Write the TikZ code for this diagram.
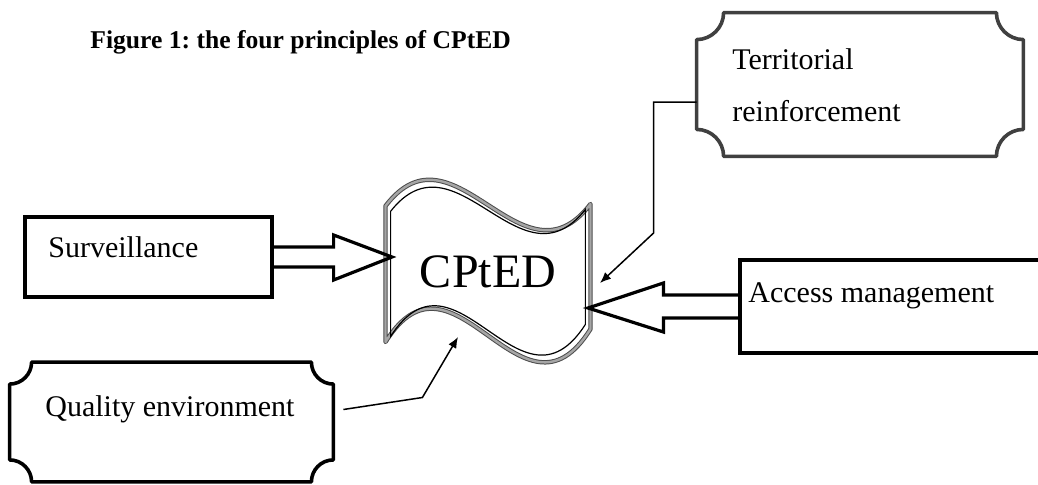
\documentclass[tikz,border=0pt]{standalone}
\usepackage{fontspec}
\setmainfont{Liberation Serif}
\usetikzlibrary{arrows.meta}
\frenchspacing

% plaque outline (concave corners) round a node: name, radius, style
\newcommand{\plaque}[3]{%
  \draw[#3] ([yshift=-#2]#1.north west) arc[start angle=-90,end angle=0,radius=#2]
    -- ([xshift=-#2]#1.north east) arc[start angle=180,end angle=270,radius=#2]
    -- ([yshift=#2]#1.south east) arc[start angle=90,end angle=180,radius=#2]
    -- ([xshift=#2]#1.south west) arc[start angle=0,end angle=90,radius=#2] -- cycle;}

\begin{document}
\begin{tikzpicture}[x=0.5pt,y=0.5pt]

    \tikzset{
      box/.style={
        draw,
        line width=1.6pt,
        inner sep=0pt,
      },
      plaquebox/.style={
        inner sep=0pt,
      },
      plaqueline/.style={
        line width=1.8pt,
        line join=round,
      },
      lbl/.style={
        font=\fontsize{15}{26}\selectfont,
        inner sep=0pt,
      },
      blockarrow/.style={
        draw,
        line width=1.6pt,
        line join=miter,
      },
      link/.style={
        line width=0.75pt,
        -{Latex[length=5.5pt,width=4.5pt]},
      },
    }
    \clip (0,0) rectangle (1038,484);
	\node[lbl, font=\fontsize{12.8}{15}\selectfont\bfseries, anchor=base west] (title) at (90,436) {Figure 1: the four principles of CPtED};

	\node[box, minimum width=123.5pt, minimum height=40pt] (surv) at (148.5,227) {};
	\node[lbl, anchor=base west] (survtxt) at (48,227) {Surveillance};

	\node[box, minimum width=160pt, minimum height=46.5pt] (acc) at (900,177.5) {};
	\node[lbl, anchor=base west] (acctxt) at (748,182) {Access management};

	\node[plaquebox, minimum width=163pt, minimum height=71.5pt] (terr) at (860,399.5) {};
	\plaque{terr}{13.5pt}{plaqueline, black!75}
	\node[lbl, anchor=west, align=left] (terrtxt) at (732,399) {Territorial\\reinforcement};

	\node[plaquebox, minimum width=161.5pt, minimum height=59.5pt] (qual) at (171.5,62) {};
	\plaque{qual}{11pt}{plaqueline}
	\node[lbl, anchor=base west] (qualtxt) at (45,68) {Quality environment};

	\node[font=\fontsize{24}{28}\selectfont, minimum width=102.5pt, minimum height=70pt] (cpted) at (488,212) {CPtED};
	\begin{scope}[shift={(cpted.center)}]
	\draw[draw=black!70, double=black!35, double distance=1.2pt, line width=0.5pt, line join=round]
	  (-102.5,66) .. controls (-34,156) and (34,-22) .. (102.5,68)
	  -- (102.5,-57) .. controls (34,-167) and (-34,40) .. (-102.5,-70) -- cycle;
	\begin{scope}[xscale=0.95, yscale=0.92]
	\draw[line width=0.6pt]
	  (-102.5,66) .. controls (-34,156) and (34,-22) .. (102.5,68)
	  -- (102.5,-57) .. controls (34,-167) and (-34,40) .. (-102.5,-70) -- cycle;
	\end{scope}
	\end{scope}

	\draw[blockarrow] ([shift={(0,10)}]surv.east) -- ++(60,0) -- ++(0,12)
	  -- ([shift={(-96,15)}]cpted.center) -- ([shift={(60,-23)}]surv.east) -- ++(0,13)
	  -- ([shift={(0,-10)}]surv.east);
	\draw[blockarrow] ([shift={(0,11.5)}]acc.west) -- ++(-75,0) -- ++(0,12)
	  -- ([shift={(100,-36)}]cpted.center) -- ([shift={(-75,-25.5)}]acc.west) -- ++(0,14)
	  -- ([shift={(0,-11.5)}]acc.west);

	\draw[link] ([shift={(0,-17.5)}]terr.west) -- ++(-43,0) -- ++(0,-131) -- ([shift={(112,-11)}]cpted.center);
	\draw[link] ([shift={(10,12.5)}]qual.east) -- ++(79,12) -- ([shift={(-30,-65)}]cpted.center);

\end{tikzpicture}
\end{document}
